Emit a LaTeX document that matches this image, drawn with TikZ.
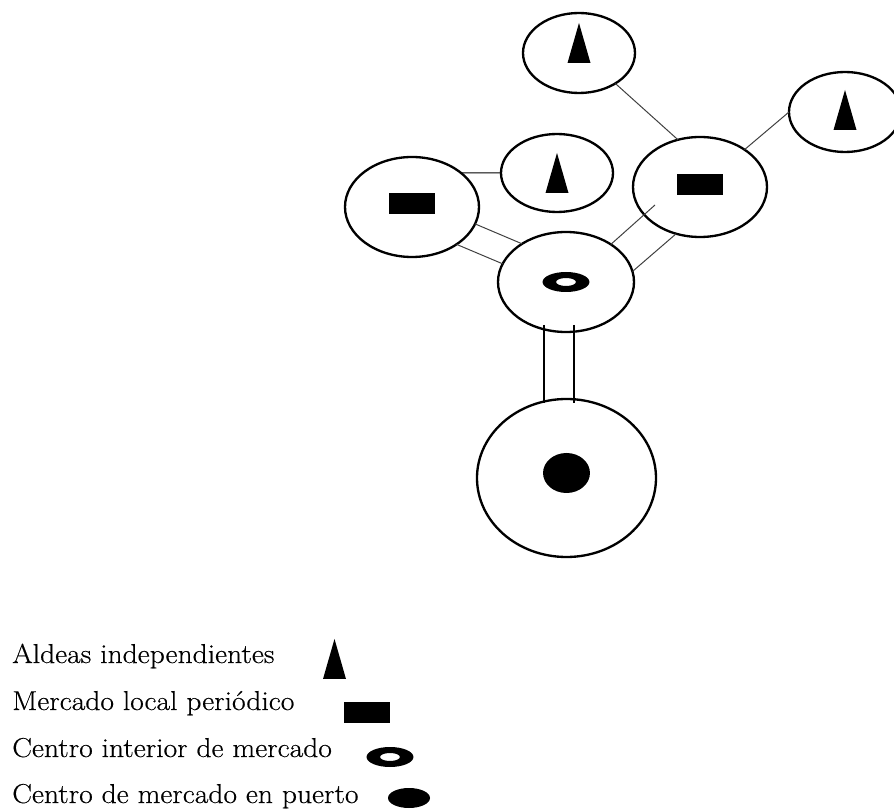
\documentclass[tikz,border=0pt]{standalone}
\usepackage{fontspec}
\setmainfont{Latin Modern Roman}[FakeStretch=1.08,FakeBold=0.4]
\usetikzlibrary{shapes.geometric,calc}
\begin{document}
\begin{tikzpicture}[x=0.75pt,y=-0.75pt,
  place/.style={ellipse,draw,line width=1.75pt,inner sep=0pt,outer sep=0pt},
  small/.style={place,minimum width=84pt,minimum height=60pt},
  mid/.style={place,minimum width=100.5pt,minimum height=75pt},
  link/.style={line width=0.75pt,draw=black!75},
  dbl/.style={line width=0.9pt,draw=black},
  legend/.style={anchor=base west,inner sep=0pt,font=\fontsize{20.5}{24}\selectfont},
  aldea/.pic={\fill (0,-20) -- (11.5,20) -- (-11.5,20) -- cycle;},
  mercado/.pic={\fill (-23,-10.5) rectangle (23,10.5);},
  interior/.pic={\fill[even odd rule] (0,0) ellipse [x radius=17.6pt,y radius=7.5pt]
                                      (0,0) ellipse [x radius=7.5pt,y radius=3pt];},
  puerto/.pic={\fill (0,0) ellipse [x radius=17.6pt,y radius=15pt];},
  puertoleg/.pic={\fill (0,0) ellipse [x radius=15.75pt,y radius=7.5pt];}
]
\useasboundingbox (0,0) rectangle (894,809);

% places
\node[small] (A1) at (579,53) {};
\node[small] (A2) at (845,112) {};
\node[small,minimum height=58.5pt] (A3) at (557,173) {};
\node[mid] (R1) at (412,207) {};
\node[mid] (R2) at (700,187) {};
\node[mid,minimum width=102pt] (C) at (566,282) {};
\node[place,minimum width=134.25pt,minimum height=118.5pt] (P) at (566.5,478) {};

% symbols
\pic at ($(A1)+(0,-10)$) {aldea};
\pic at ($(A2)+(0,-2)$) {aldea};
\pic at (A3) {aldea};
\pic at ($(R1)+(0,-3)$) {mercado};
\pic at ($(R2)+(0,-2.5)$) {mercado};
\pic at (C) {interior};
\pic at ($(P)+(0,-5)$) {puerto};

% connectors
\draw[link] (A1.-40) -- (R2.115);
\draw[link] (A2.180) -- (R2.40);
\draw[link,draw=black] (R1.35) -- (A3.180);
\draw[link] (R1.-15.5) -- (C.139);
\draw[link] (R1.-40) -- (C.164);
\coordinate (r2in) at ($(R2)+(-45,18)$);
\draw[link] (r2in) -- (C.40);
\draw[link] (R2.-117.5) -- (C.9);
\draw[dbl] ($(C)+(-22,43)$) -- ++(0,78);
\draw[dbl] ($(C)+(8,43)$) -- ++(0,78);

% legend
\node[legend] (t1) at (12,663) {Aldeas independientes};
\node[legend] (t2) at (12,710) {Mercado local periódico};
\node[legend] (t3) at (12,757) {Centro interior de mercado};
\node[legend] (t4) at (12,803) {Centro de mercado en puerto};
\pic at (334.5,659) {aldea};
\pic at (367,712.5) {mercado};
\pic at (390,757) {interior};
\pic at (409,798) {puertoleg};
\end{tikzpicture}
\end{document}
